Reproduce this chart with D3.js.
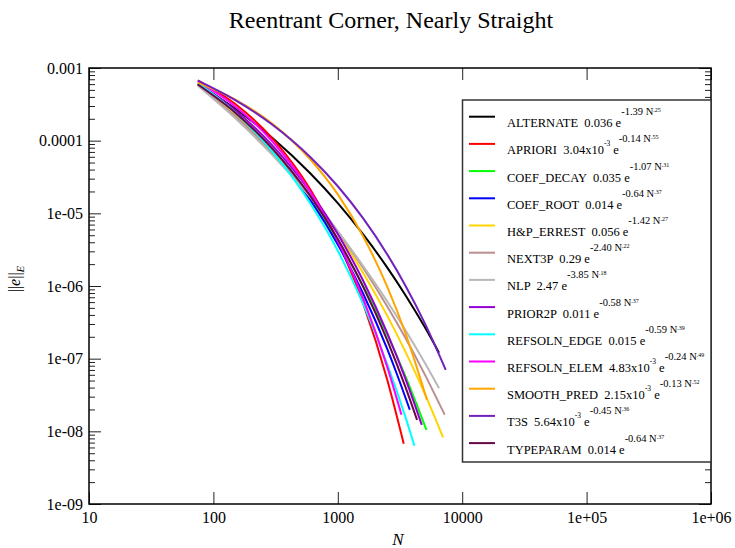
<!DOCTYPE html>
<html>
<head>
<meta charset="utf-8">
<script src="https://cdn.jsdelivr.net/npm/d3@7"></script>
<style>
  body { margin: 0; background: #fff; }
  text { font-family: "Liberation Serif", "Times New Roman", serif; fill: #000; }
  .legend-text { white-space: pre; }
</style>
</head>
<body>
<div id="chart"></div>
<script>
// error curves: [N, ||e||_E]
const alternate   = [[75,6.02e-4],[150,2.75e-4],[300,1.08e-4],[600,3.56e-5],[1000,1.38e-5],[1600,5.12e-6],[2500,1.79e-6],[3500,7.46e-7],[5000,2.72e-7],[6510,1.21e-7]];
const apriori     = [[75,6.75e-4],[150,3.19e-4],[300,1.06e-4],[600,2.14e-5],[1000,4.13e-6],[1600,5.71e-7],[2500,5.09e-8],[3390,6.73e-9]];
const coefDecay   = [[75,5.92e-4],[150,2.25e-4],[300,6.78e-5],[600,1.53e-5],[1000,4.10e-6],[1600,9.98e-7],[2500,2.12e-7],[3500,5.71e-8],[5155,1.05e-8]];
const coefRoot    = [[75,5.93e-4],[150,2.36e-4],[300,7.16e-5],[600,1.54e-5],[1000,3.73e-6],[1600,7.82e-7],[2500,1.35e-7],[3000,6.01e-8],[3790,1.98e-8]];
const hpErrest    = [[75,5.89e-4],[150,2.26e-4],[300,7.15e-5],[600,1.78e-5],[1000,5.35e-6],[1600,1.51e-6],[2500,3.88e-7],[3500,1.24e-7],[5000,3.31e-8],[7015,8.26e-9]];
const next3p      = [[75,5.85e-4],[150,2.16e-4],[300,6.79e-5],[600,1.76e-5],[1000,5.66e-6],[1600,1.77e-6],[2500,5.23e-7],[3500,1.92e-7],[5000,6.08e-8],[7230,1.69e-8]];
const nlp         = [[75,5.69e-4],[150,2.03e-4],[300,6.28e-5],[600,1.67e-5],[1000,5.64e-6],[1600,1.88e-6],[2500,6.12e-7],[3500,2.46e-7],[5000,8.77e-8],[6510,3.93e-8]];
const prior2p     = [[75,6.27e-4],[150,2.62e-4],[300,8.49e-5],[600,1.98e-5],[1000,5.18e-6],[1600,1.18e-6],[2500,2.24e-7],[3500,5.26e-8],[4730,1.23e-8]];
const refsolnEdge = [[75,6.25e-4],[150,2.43e-4],[300,7.03e-5],[600,1.38e-5],[1000,3.06e-6],[1600,5.66e-7],[2500,8.38e-8],[3500,1.57e-8],[4130,6.32e-9]];
const refsolnElem = [[75,6.60e-4],[150,2.96e-4],[300,9.61e-5],[600,1.98e-5],[1000,4.16e-6],[1600,6.71e-7],[2500,7.66e-8],[3250,1.69e-8]];
const smoothPred  = [[75,6.30e-4],[150,3.67e-4],[300,1.69e-4],[600,5.55e-5],[1000,1.82e-5],[1600,4.80e-6],[2500,9.73e-7],[3500,2.23e-7],[5210,2.71e-8]];
const t3s         = [[75,6.71e-4],[150,3.62e-4],[300,1.64e-4],[600,5.97e-5],[1000,2.36e-5],[1600,8.51e-6],[2500,2.72e-6],[3500,1.01e-6],[5000,3.08e-7],[7370,7.02e-8]];
const typeparam   = [[75,5.93e-4],[150,2.43e-4],[300,7.69e-5],[600,1.74e-5],[1000,4.42e-6],[1600,9.74e-7],[2500,1.79e-7],[3500,4.06e-8],[4335,1.44e-8]];

const seriesNames = ['ALTERNATE','APRIORI','COEF_DECAY','COEF_ROOT','H&P_ERREST','NEXT3P','NLP',
                     'PRIOR2P','REFSOLN_EDGE','REFSOLN_ELEM','SMOOTH_PRED','T3S','TYPEPARAM'];
const seriesData = [alternate, apriori, coefDecay, coefRoot, hpErrest, next3p, nlp,
                    prior2p, refsolnEdge, refsolnElem, smoothPred, t3s, typeparam];
// fit a e^(b N^c) shown in the legend
const fitCoef  = ['0.036','3.04x10^-3','0.035','0.014','0.056','0.29','2.47','0.011','0.015','4.83x10^-3','2.15x10^-3','5.64x10^-3','0.014'];
const fitRate  = ['-1.39','-0.14','-1.07','-0.64','-1.42','-2.40','-3.85','-0.58','-0.59','-0.24','-0.13','-0.45','-0.64'];
const fitPower = ['.25','.55','.31','.37','.27','.22','.18','.37','.39','.49','.52','.36','.37'];

const xTicks = [10, 100, 1000, 10000, 1e5, 1e6];
const xTickLabels = ['10','100','1000','10000','1e+05','1e+06'];
const yTicks = [1e-9, 1e-8, 1e-7, 1e-6, 1e-5, 1e-4, 1e-3];
const yTickLabels = ['1e-09','1e-08','1e-07','1e-06','1e-05','0.0001','0.001'];

const colors = ['#000000','#ff0000','#00ff00','#0000ff','#ffd400','#bc8f8f','#b8b8b8',
                '#9400d3','#00ffff','#ff00ff','#ffa500','#7221bc','#670748'];

const width = 735, height = 548;
const plot = {left: 89, right: 711, top: 68, bottom: 504};
const serif = 'Liberation Serif';

const svg = d3.select('#chart').append('svg')
    .attr('width', width)
    .attr('height', height);

const x = d3.scaleLog().domain([10, 1e6]).range([plot.left, plot.right]);
const y = d3.scaleLog().domain([1e-9, 1e-3]).range([plot.bottom, plot.top]);

// minor ticks 2..9 for every y decade
const yMinor = [];
for (let e = -9; e < -3; e++) {
    for (let m = 2; m <= 9; m++) yMinor.push(m * Math.pow(10, e));
}

// title
svg.append('text')
    .attr('x', 391)
    .attr('y', 28)
    .attr('text-anchor', 'middle')
    .style('font-size', '24px')
    .text('Reentrant Corner, Nearly Straight');

// axes, ticks pointing inwards
const axisGroup = () => svg.append('g').attr('font-family', serif).attr('font-size', 16);

axisGroup()
    .attr('transform', `translate(0,${plot.bottom})`)
    .call(d3.axisBottom(x).tickValues(xTicks).tickSizeInner(-12).tickSizeOuter(0).tickPadding(8)
        .tickFormat((d, i) => xTickLabels[i]));
axisGroup()
    .attr('transform', `translate(0,${plot.top})`)
    .call(d3.axisTop(x).tickValues(xTicks).tickSizeInner(-12).tickSizeOuter(0).tickFormat(''));

axisGroup()
    .attr('transform', `translate(${plot.left},0)`)
    .call(d3.axisLeft(y).tickValues(yTicks).tickSizeInner(-12).tickSizeOuter(0).tickPadding(6)
        .tickFormat((d, i) => yTickLabels[i]));
axisGroup()
    .attr('transform', `translate(${plot.left},0)`)
    .call(d3.axisLeft(y).tickValues(yMinor).tickSizeInner(-6).tickSizeOuter(0).tickFormat(''));
axisGroup()
    .attr('transform', `translate(${plot.right},0)`)
    .call(d3.axisRight(y).tickValues(yTicks).tickSizeInner(-12).tickSizeOuter(0).tickFormat(''));
axisGroup()
    .attr('transform', `translate(${plot.right},0)`)
    .call(d3.axisRight(y).tickValues(yMinor).tickSizeInner(-6).tickSizeOuter(0).tickFormat(''));

svg.selectAll('.domain').remove();
svg.selectAll('.tick line').attr('stroke', '#222').attr('stroke-width', 1);
svg.selectAll('.tick text')
    .attr('font-family', serif)
    .style('font-family', serif)
    .style('font-size', '16px')
    .attr('fill', '#000');

// frame
svg.append('rect')
    .attr('x', plot.left)
    .attr('y', plot.top)
    .attr('width', plot.right - plot.left)
    .attr('height', plot.bottom - plot.top)
    .attr('fill', 'none')
    .attr('stroke', '#000')
    .attr('stroke-width', 1.5);

// axis titles
svg.append('text')
    .attr('x', 398)
    .attr('y', 545)
    .attr('text-anchor', 'middle')
    .style('font-size', '17px')
    .style('font-style', 'italic')
    .text('N');

const yTitle = svg.append('text')
    .attr('transform', 'translate(20,279) rotate(-90)')
    .attr('text-anchor', 'middle')
    .style('font-size', '16px');
yTitle.append('tspan').text('||');
yTitle.append('tspan').style('font-style', 'italic').text('e');
yTitle.append('tspan').text('||');
yTitle.append('tspan').attr('dy', 4).style('font-style', 'italic').style('font-size', '11px').text('E');

// curves
const line = d3.line()
    .x(d => x(d[0]))
    .y(d => y(d[1]))
    .curve(d3.curveMonotoneX);

svg.append('g').selectAll('path')
    .data(seriesData)
    .join('path')
    .attr('d', line)
    .attr('fill', 'none')
    .attr('stroke', (d, i) => colors[i])
    .attr('stroke-width', 2);

// legend
const legend = svg.append('g');
legend.append('rect')
    .attr('x', 462.5)
    .attr('y', 100)
    .attr('width', plot.right - 462.5)
    .attr('height', 362)
    .attr('fill', '#fff')
    .attr('stroke', '#333')
    .attr('stroke-width', 1.5);

const rowY = i => 116.7 + i * 27.2;

seriesNames.forEach((name, i) => {
    legend.append('line')
        .attr('x1', 469).attr('x2', 495)
        .attr('y1', rowY(i)).attr('y2', rowY(i))
        .attr('stroke', colors[i])
        .attr('stroke-width', 2);

    const t = legend.append('text')
        .attr('class', 'legend-text')
        .attr('x', 507)
        .attr('y', rowY(i) + 10.5)
        .style('font-size', '12.5px');

    const parts = fitCoef[i].split('^');
    t.append('tspan').text(name + '  ' + parts[0]);
    let shift = 0;
    if (parts.length > 1) {
        t.append('tspan').attr('dy', -8).style('font-size', '7.5px').text(parts[1]);
        shift = 8;
    }
    t.append('tspan').attr('dy', shift).text(' e');
    t.append('tspan').attr('dy', -12).style('font-size', '10.5px').text(fitRate[i] + ' N');
    t.append('tspan').attr('dy', -3).style('font-size', '6px').text(fitPower[i]);
});
</script>
</body>
</html>
